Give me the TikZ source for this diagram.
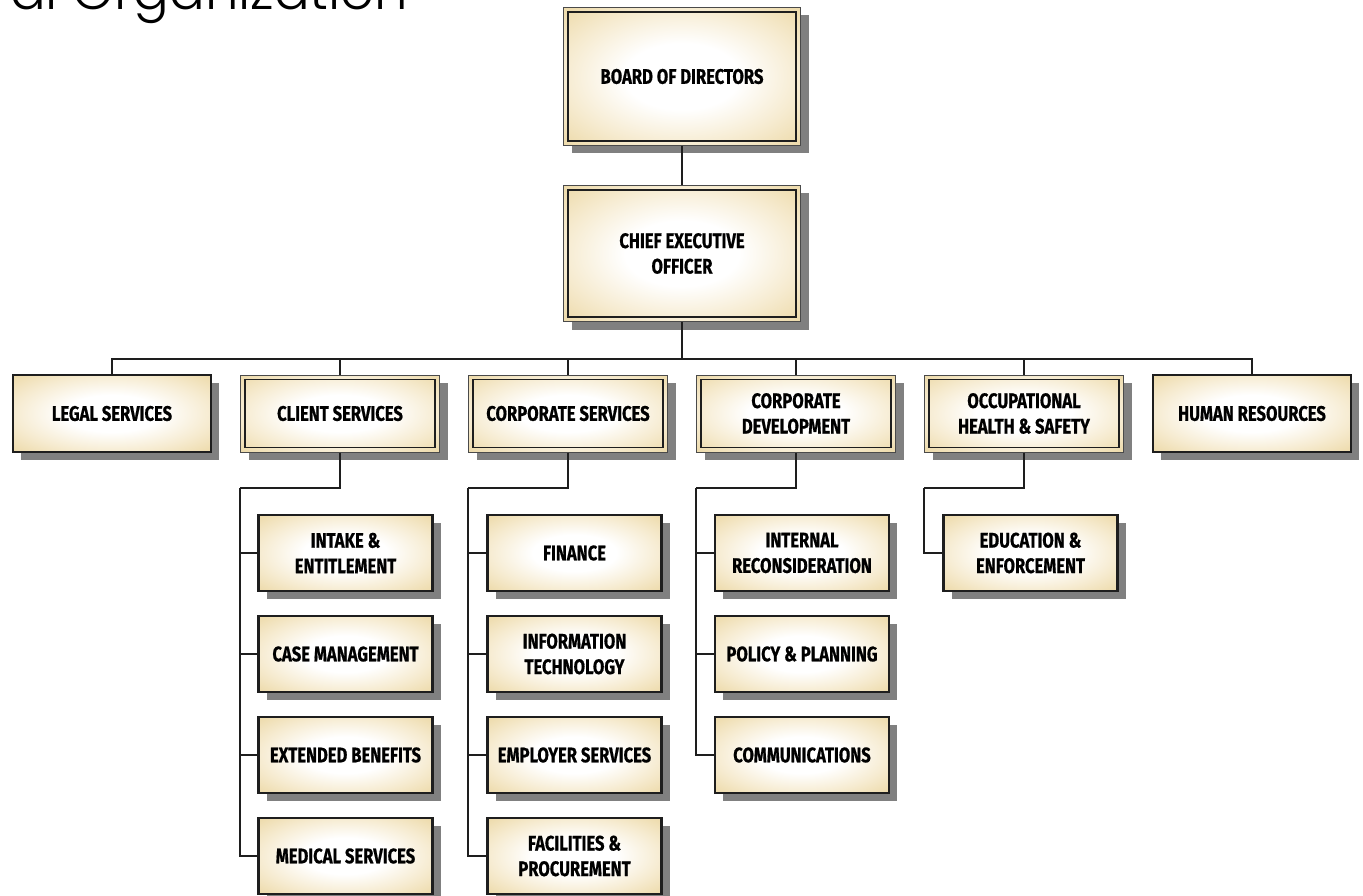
\documentclass[tikz,border=0pt]{standalone}
\usepackage{fontspec}
\newfontfamily\boxfont{Fira Sans}[FakeStretch=0.79, FakeBold=0.7]
\newfontfamily\titlefont{Poppins Light}
\usetikzlibrary{shadows}
\definecolor{tanedge}{HTML}{EEDCAE}
\definecolor{tanmid}{HTML}{F6EBD0}
\definecolor{shadowgray}{HTML}{808080}
\definecolor{linecol}{HTML}{1E1E1E}
\definecolor{outerline}{HTML}{4A4A4A}
\pgfdeclareradialshading{boxshade}{\pgfpoint{0bp}{0bp}}{color(0bp)=(white); color(12bp)=(white); color(25bp)=(tanmid); color(34bp)=(tanedge); color(50bp)=(tanedge)}
\begin{document}
\begin{tikzpicture}[x=1pt,y=-1pt,
  basebox/.style={shading=boxshade, inner sep=0pt, align=center,
    font=\boxfont\bfseries\fontsize{21}{25.5}\selectfont,
    drop shadow={shadow xshift=8pt, shadow yshift=-8pt, fill=shadowgray, opacity=1}},
  singlebox/.style={basebox, draw=linecol, line width=2.2pt},
  doublebox/.style={basebox, draw=outerline, line width=1pt,
    path picture={\draw[linecol, line width=1.3pt]
      ([shift={(4.5pt,-4.5pt)}]path picture bounding box.north west) rectangle
      ([shift={(-4.5pt,4.5pt)}]path picture bounding box.south east);}},
  toprow/.style={minimum width=199pt, minimum height=77pt},
  childbox/.style={singlebox, minimum width=174pt, minimum height=76pt},
  conn/.style={draw=linecol, line width=1.4pt},
  trunk/.style={draw=linecol, line width=1.9pt}]
\useasboundingbox (0,0) rectangle (1363,896);
\fill[white] (0,0) rectangle (1363,896);

\node[anchor=base west, inner sep=0pt, font=\titlefont\fontsize{53}{53}\selectfont] (title) at (10,10) {al Organization};

% top chain
\node[doublebox, minimum width=237pt, minimum height=138pt] (board) at (682,76.5) {BOARD OF DIRECTORS};
\node[doublebox, minimum width=237pt, minimum height=136pt] (ceo) at (682,253.5) {CHIEF EXECUTIVE\\OFFICER};

% division row
\node[singlebox, toprow, minimum width=198pt] (legal) at (112,413.5) {LEGAL SERVICES};
\node[doublebox, toprow] (client) at (340,413.5) {CLIENT SERVICES};
\node[doublebox, toprow] (corps) at (568,413.5) {CORPORATE SERVICES};
\node[doublebox, toprow] (cdev) at (796,413.5) {CORPORATE\\DEVELOPMENT};
\node[doublebox, toprow] (ohs) at (1024,413.5) {OCCUPATIONAL\\HEALTH \& SAFETY};
\node[singlebox, toprow, minimum width=198pt] (hr) at (1252,413.5) {HUMAN RESOURCES};

% children
\node[childbox] (cl1) at (345.5,553) {INTAKE \&\\ENTITLEMENT};
\node[childbox] (cl2) at (345.5,654) {CASE MANAGEMENT};
\node[childbox] (cl3) at (345.5,755) {EXTENDED BENEFITS};
\node[childbox] (cl4) at (345.5,856) {MEDICAL SERVICES};

\node[childbox] (cs1) at (574.5,553) {FINANCE};
\node[childbox] (cs2) at (574.5,654) {INFORMATION\\TECHNOLOGY};
\node[childbox] (cs3) at (574.5,755) {EMPLOYER SERVICES};
\node[childbox] (cs4) at (574.5,856) {FACILITIES \&\\PROCUREMENT};

\node[childbox] (cd1) at (802,553) {INTERNAL\\RECONSIDERATION};
\node[childbox] (cd2) at (802,654) {POLICY \& PLANNING};
\node[childbox] (cd3) at (802,755) {COMMUNICATIONS};

\node[childbox] (oh1) at (1030.5,553) {EDUCATION \&\\ENFORCEMENT};

% connectors
\coordinate (bus) at (682,359);
\draw[trunk] (board.south) -- (ceo.north);
\draw[trunk] (ceo.south) -- (bus);
\draw[conn] (legal.north) |- (bus) -| (hr.north);
\foreach \n in {client,corps,cdev,ohs} \draw[conn] (\n.north) -- (\n.north |- bus);

\coordinate (clj) at (240,488);
\coordinate (csj) at (468,488);
\coordinate (cdj) at (696,488);
\coordinate (ohj) at (924,488);
\draw[conn] (client.south) |- (clj);
\draw[conn] (corps.south) |- (csj);
\draw[conn] (cdev.south) |- (cdj);
\draw[conn] (ohs.south) |- (ohj);
\foreach \k in {1,...,4} \draw[conn] (clj) |- (cl\k.west);
\foreach \k in {1,...,4} \draw[conn] (csj) |- (cs\k.west);
\foreach \k in {1,...,3} \draw[conn] (cdj) |- (cd\k.west);
\draw[conn] (ohj) |- (oh1.west);
\end{tikzpicture}
\end{document}
